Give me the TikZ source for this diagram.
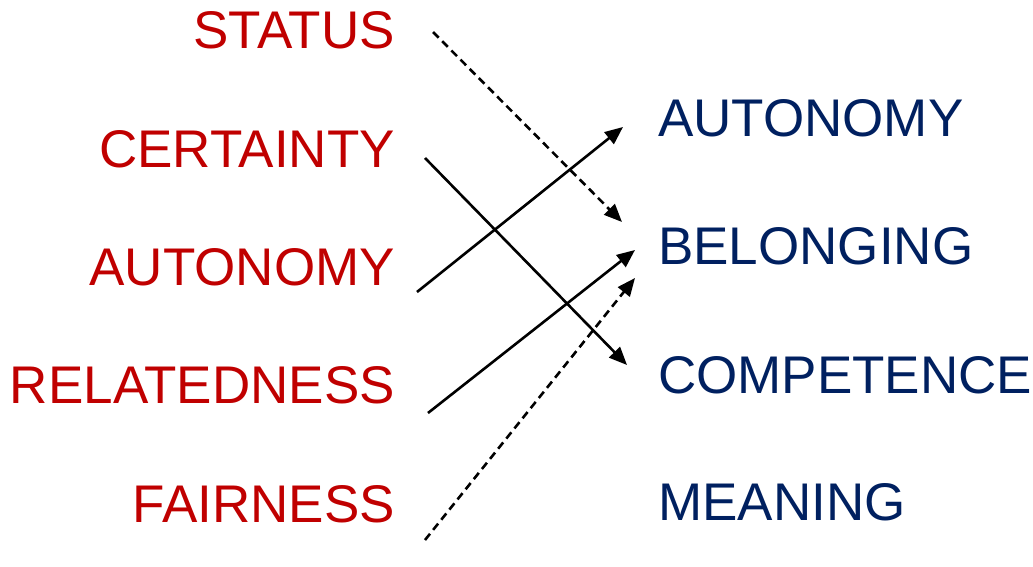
\documentclass[tikz,border=0pt]{standalone}
\usepackage{fontspec}
\setmainfont{Liberation Sans}
\usetikzlibrary{arrows.meta,calc}
\definecolor{needRed}{RGB}{192,0,0}
\definecolor{needBlue}{RGB}{0,32,96}
\tikzset{
  mpOld/.style={text=needRed, inner sep=0pt, anchor=base east,
    font=\fontsize{53}{63}\selectfont},
  mpNew/.style={text=needBlue, inner sep=0pt, anchor=base west,
    font=\fontsize{53}{63}\selectfont},
  %% Link arrows
  mplink/.style={-{Triangle[length=18pt, width=15pt]}, line width=2.6pt},
  mpweak/.style={mplink, dash pattern=on 8pt off 5pt},
}

\begin{document}
\begin{tikzpicture}[x=1pt, y=-1pt]
\useasboundingbox (0,0) rectangle (1033,567);

\node[mpOld] (lStatus)    at (395, 49) {STATUS};
\node[mpOld] (lCertainty) at (395,167) {CERTAINTY};
\node[mpOld] (lAutonomy)  at (395,285) {AUTONOMY};
\node[mpOld] (lRelated)   at (395,403) {RELATEDNESS};
\node[mpOld] (lFairness)  at (395,522) {FAIRNESS};

\node[mpNew] (rAutonomy)   at (658,137) {AUTONOMY};
\node[mpNew] (rBelonging)  at (658,264) {BELONGING};
\node[mpNew] (rCompetence) at (658,393) {COMPETENCE};
\node[mpNew] (rMeaning)    at (658,520) {MEANING};

\draw[mpweak] ([shift={(38,-17)}]lStatus.base east)    -- ([shift={(-36,-42)}]rBelonging.base west);
\draw[mplink] ([shift={(30,-9)}]lCertainty.base east)  -- ([shift={(-31,-28)}]rCompetence.base west);
\draw[mplink] ([shift={(22,7)}]lAutonomy.base east)    -- ([shift={(-35,-10)}]rAutonomy.base west);
\draw[mplink] ([shift={(33,10)}]lRelated.base east)    -- ([shift={(-23,-14)}]rBelonging.base west);
\draw[mpweak] ([shift={(30,18)}]lFairness.base east)   -- ([shift={(-23,14)}]rBelonging.base west);

\end{tikzpicture}
\end{document}
